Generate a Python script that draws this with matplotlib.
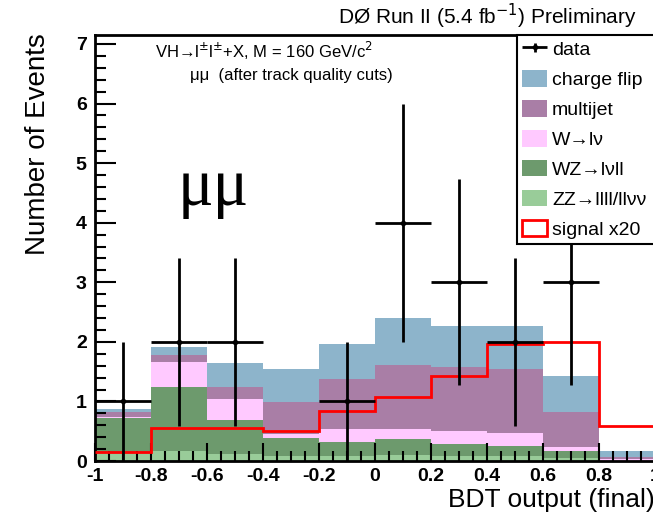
import numpy as np
import matplotlib
matplotlib.use("Agg")
import matplotlib.pyplot as plt
from matplotlib.patches import Patch
from matplotlib.container import ErrorbarContainer
from matplotlib.legend_handler import HandlerErrorbar
from matplotlib.ticker import MultipleLocator, FuncFormatter

# BDT output binning and per-bin yields (stacked backgrounds, bottom to top)
edges = np.linspace(-1.0, 1.0, 11)
zz_llll = [0.14, 0.17, 0.12, 0.09, 0.08, 0.10, 0.09, 0.08, 0.05, 0.00]
wz_lvll = [0.59, 1.08, 0.56, 0.29, 0.24, 0.27, 0.20, 0.17, 0.11, 0.00]
w_lv = [0.01, 0.42, 0.36, 0.08, 0.22, 0.17, 0.21, 0.22, 0.08, 0.03]
multijet = [0.08, 0.11, 0.21, 0.53, 0.84, 1.07, 1.07, 1.07, 0.58, 0.04]
charge_flip = [0.05, 0.14, 0.40, 0.55, 0.58, 0.79, 0.70, 0.73, 0.61, 0.10]
signal_x20 = [0.15, 0.55, 0.55, 0.50, 0.84, 1.07, 1.43, 1.96, 2.00, 0.58]
data_counts = [1, 2, 2, 0, 1, 4, 3, 2, 3, 0]

SANS = ["Liberation Sans", "DejaVu Sans"]
plt.rcParams["font.family"] = SANS

fig = plt.figure(figsize=(6.53, 5.21), dpi=100)
ax = fig.add_axes([95 / 653, 60 / 521, 560 / 653, 426 / 521])

components = [
    (zz_llll, "#99cc99", "ZZ\u2192llll/ll\u03bd\u03bd"),
    (wz_lvll, "#6d9a6d", "WZ\u2192l\u03bdll"),
    (w_lv, "#ffc9ff", "W\u2192l\u03bd"),
    (multijet, "#a97ea6", "multijet"),
    (charge_flip, "#8db4cb", "charge flip"),
]
base = np.zeros(len(edges) - 1)
for vals, col, _ in components:
    top = base + np.asarray(vals)
    ax.stairs(top, edges, baseline=base.copy(), fill=True, color=col, lw=0, zorder=1)
    base = top

ax.stairs(signal_x20, edges, baseline=None, color="#ff0000", lw=2.0, zorder=3)

centers = 0.5 * (edges[:-1] + edges[1:])
counts = np.asarray(data_counts, dtype=float)
has = counts > 0
err = ax.errorbar(centers[has], counts[has], xerr=0.1, yerr=np.sqrt(counts[has]),
                  fmt="o", ms=3.0, color="black", ecolor="black", elinewidth=2.0,
                  capsize=0, zorder=4)

ax.set_xlim(-1.0, 1.0)
ax.set_ylim(0, 7.15)
ax.xaxis.set_major_locator(MultipleLocator(0.2))
ax.xaxis.set_minor_locator(MultipleLocator(0.05))
ax.yaxis.set_major_locator(MultipleLocator(1))
ax.yaxis.set_minor_locator(MultipleLocator(0.2))
ax.xaxis.set_major_formatter(FuncFormatter(lambda v, _: "%g" % round(v, 6)))
ax.tick_params(which="both", direction="in", top=False, right=False, width=1.5,
               colors="black")
ax.tick_params(axis="y", which="major", length=15, pad=6)
ax.tick_params(axis="y", which="minor", length=8)
ax.tick_params(axis="x", which="major", length=13, pad=5)
ax.tick_params(axis="x", which="minor", length=7)
for lab in ax.get_xticklabels() + ax.get_yticklabels():
    lab.set_fontweight("bold")
    lab.set_fontsize(14)
for sp in ax.spines.values():
    sp.set_linewidth(2.0)

handles = [err] + [Patch(facecolor=c, edgecolor="none") for _, c, _ in components[::-1]]
labels = ["data"] + [l for _, _, l in components[::-1]]
handles.append(Patch(facecolor="white", edgecolor="#ff0000", lw=2))
labels.append("signal x20")
leg = ax.legend(handles, labels, loc="upper left", bbox_to_anchor=(0.7536, 0, 0.35, 1.0),
                mode="expand", borderaxespad=0, fontsize=14, handlelength=1.3,
                handleheight=0.95, handletextpad=0.25, labelspacing=0.56,
                borderpad=0.25, fancybox=False, framealpha=1, edgecolor="black",
                handler_map={ErrorbarContainer: HandlerErrorbar(xerr_size=0.65,
                                                                yerr_size=0.22)})
leg.get_frame().set_linewidth(1.5)
leg.set_zorder(5)

ax.text(0.107, 0.962, "VH\u2192l$^{\\pm}$l$^{\\pm}$+X, M = 160 GeV/c$^{2}$",
        transform=ax.transAxes, fontsize=12, va="center", ha="left")
ax.text(0.17, 0.905, "\u03bc\u03bc  (after track quality cuts)",
        transform=ax.transAxes, fontsize=12, va="center", ha="left")
ax.text(0.148, 0.64, "\u03bc\u03bc", transform=ax.transAxes, fontsize=48,
        va="center", ha="left", family=["Liberation Serif", "DejaVu Serif"])

fig.text(637 / 653, 1 - 16 / 521, "D\u00d8 Run II (5.4 fb$^{-1}$) Preliminary",
         ha="right", va="center", fontsize=15)
fig.text(655 / 653, 1 - 500 / 521, "BDT output (final)", ha="right", va="center",
         fontsize=19)
fig.text(38 / 653, 1 - 33 / 521, "Number of Events", rotation=90, ha="center",
         va="top", fontsize=20)

fig.savefig("out.png", dpi=100)
